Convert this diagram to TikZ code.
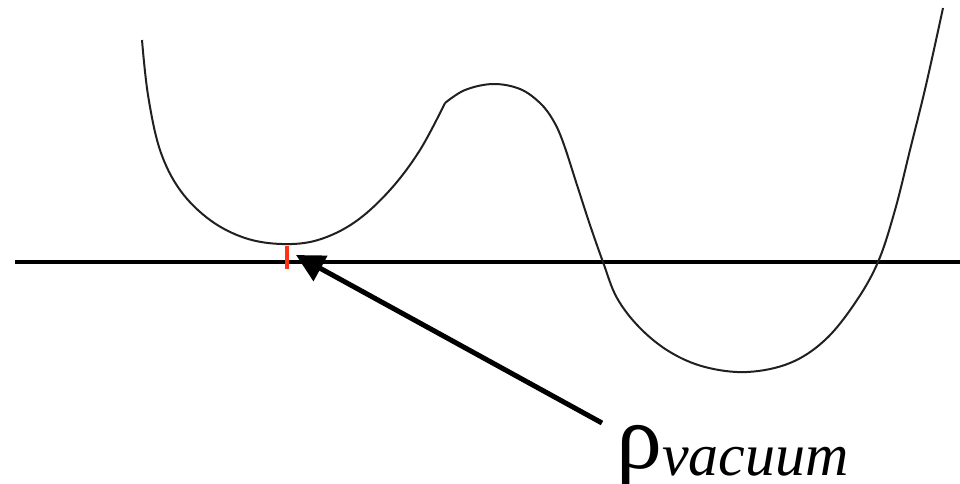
\documentclass[tikz,border=0pt]{standalone}
\usepackage{fontspec}
\setmainfont{Liberation Serif}
\usetikzlibrary{arrows.meta}
\tikzset{
  curve/.style={line width=2pt, draw={rgb,255:red,35;green,31;blue,32}, line join=round},
  axis/.style={line width=4.8pt, draw=black},
  tick/.style={line width=4pt, draw={rgb,255:red,255;green,50;blue,20}},
  pointer/.style={line width=5pt, draw=black, -{Triangle[length=28pt,width=28pt]}},
  lbl/.style={anchor=base west, inner sep=0pt}
}
\begin{document}
\begin{tikzpicture}[x=1pt,y=-1pt]
\useasboundingbox (0,0) rectangle (960,483);
% axis
\coordinate (axL) at (15,262);
\coordinate (axR) at (960,262);
\draw[axis] (axL) -- (axR);
% potential curve
\draw[curve] plot[smooth, tension=0.6] coordinates {
  (142,40) (148,95) (160,150) (180,190) (210,220) (245,238) (282,244)
  (318,240) (355,222) (390,190) (420,150) (445,103)};
\draw[curve] plot[smooth, tension=0.6] coordinates {
  (445,103) (465,90) (493,84) (520,89) (540,103) (553,120) (563,142)
  (577,185) (590,225) (603,262) (617,298) (640,328) (670,352) (705,367)
  (747,372) (790,363) (825,340) (855,303) (878,262) (895,210) (910,150)
  (926,85) (943,8)};
% red tick
\coordinate (tkT) at (287,246);
\coordinate (tkB) at (287,269);
\draw[tick] (tkT) -- (tkB);
% label and arrow
\node[lbl] (label) at (616,468) {\fontsize{92}{92}\selectfont ρ\raisebox{-7pt}{\fontsize{60}{60}\selectfont\itshape vacuum}};
\coordinate (tail) at (602,423);
\coordinate (tip) at (296,255);
\draw[pointer] (tail) -- (tip);
\end{tikzpicture}
\end{document}
